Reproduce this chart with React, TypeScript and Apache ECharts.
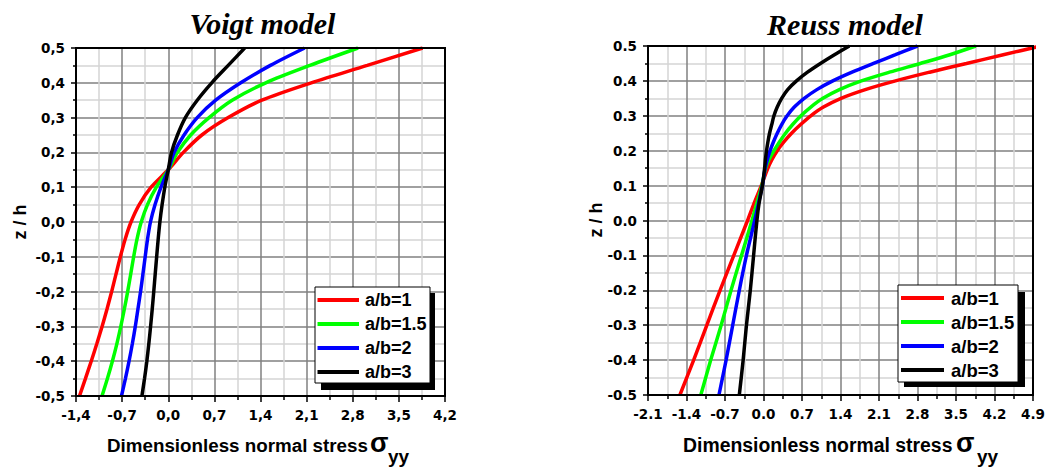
import React, { useEffect, useRef } from 'react';
import * as echarts from 'echarts';

// ---------- data ----------
const seriesNames = ['a/b=1', 'a/b=1.5', 'a/b=2', 'a/b=3'];
const seriesColors = ['#ff0000', '#00ff00', '#0000ff', '#000000'];

// Voigt model: z/h levels and stress values per a/b
const voigtZ = [-0.5, -0.45, -0.4, -0.35, -0.3, -0.25, -0.2, -0.15, -0.1, -0.05, 0, 0.05, 0.1, 0.15, 0.2, 0.25, 0.3, 0.35, 0.4, 0.45, 0.5];
const voigtAB1 = [-1.347, -1.257, -1.169, -1.084, -1.004, -0.929, -0.859, -0.793, -0.727, -0.655, -0.565, -0.44, -0.26, 0.0, 0.23, 0.51, 0.91, 1.42, 2.17, 3.02, 3.86];
const voigtAB15 = [-1.005, -0.923, -0.848, -0.78, -0.72, -0.666, -0.616, -0.57, -0.525, -0.475, -0.41, -0.315, -0.18, 0.0, 0.14, 0.34, 0.62, 0.97, 1.48, 2.15, 2.88];
const voigtAB2 = [-0.71, -0.65, -0.595, -0.545, -0.5, -0.46, -0.42, -0.385, -0.35, -0.315, -0.27, -0.2, -0.11, 0.0, 0.09, 0.24, 0.44, 0.72, 1.1, 1.55, 2.07];
const voigtAB3 = [-0.4, -0.36, -0.325, -0.295, -0.268, -0.243, -0.22, -0.198, -0.176, -0.153, -0.127, -0.093, -0.052, 0.0, 0.05, 0.14, 0.26, 0.44, 0.66, 0.91, 1.16];

// Reuss model
const reussZ = [-0.5, -0.4, -0.3, -0.2, -0.1, 0, 0.05, 0.1, 0.15, 0.175, 0.2, 0.225, 0.25, 0.275, 0.3, 0.325, 0.35, 0.375, 0.4, 0.425, 0.45, 0.475, 0.5];
const reussAB1 = [-1.52, -1.27, -1.03, -0.79, -0.54, -0.29, -0.17, -0.04, 0.08, 0.155, 0.25, 0.37, 0.51, 0.675, 0.86, 1.09, 1.41, 1.85, 2.4, 3.02, 3.69, 4.36, 5.04];
const reussAB15 = [-1.14, -0.96, -0.77, -0.59, -0.4, -0.21, -0.12, -0.03, 0.04, 0.1, 0.19, 0.29, 0.4, 0.53, 0.68, 0.86, 1.08, 1.38, 1.78, 2.29, 2.85, 3.39, 3.86];
const reussAB2 = [-0.81, -0.68, -0.56, -0.44, -0.31, -0.16, -0.09, -0.02, 0.03, 0.07, 0.12, 0.18, 0.25, 0.33, 0.43, 0.56, 0.74, 0.97, 1.26, 1.61, 2.0, 2.4, 2.8];
const reussAB3 = [-0.44, -0.37, -0.31, -0.24, -0.18, -0.12, -0.08, -0.02, 0.02, 0.035, 0.055, 0.08, 0.11, 0.15, 0.19, 0.25, 0.33, 0.44, 0.6, 0.8, 1.035, 1.29, 1.56];

const voigtSeries = [voigtAB1, voigtAB15, voigtAB2, voigtAB3];
const reussSeries = [reussAB1, reussAB15, reussAB2, reussAB3];

const titles = ['Voigt model', 'Reuss model'];
const xAxisTitle = 'Dimensionless normal stress';
const sigma = 'σ';
const sub = 'yy';
const yAxisTitle = 'z / h';

// axis ranges
const voigtXMin = -1.4, voigtXMax = 4.2;
const reussXMin = -2.1, reussXMax = 4.9;
const xStep = 0.7;
const zMin = -0.5, zMax = 0.5, zStep = 0.1;

// ---------- layout ----------
const G = [
  { left: 76, top: 48, width: 369, height: 348 },
  { left: 648, top: 46, width: 385, height: 349 },
];

const fmt = (comma: boolean) => (v: number) => {
  const s = (Math.abs(v) < 1e-9 ? 0 : v).toFixed(1);
  return comma ? s.replace('.', ',') : s;
};

const labelStyle = {
  fontFamily: 'DejaVu Sans',
  fontWeight: 'bold',
  fontSize: 13.5,
  color: '#000',
};

function xAxis(gridIndex: number, min: number, max: number, comma: boolean) {
  return {
    type: 'value',
    gridIndex,
    min,
    max,
    interval: xStep,
    axisLine: { show: true, onZero: false, lineStyle: { color: '#000', width: 2 } },
    axisTick: { show: true, inside: false, length: 6, lineStyle: { color: '#000', width: 1.5 } },
    minorTick: { show: true, splitNumber: 2, length: 4, lineStyle: { color: '#000', width: 1.5 } },
    splitLine: { show: true, lineStyle: { color: '#808080', width: 1.5 } },
    minorSplitLine: { show: true, lineStyle: { color: '#d4d4d4', width: 1.5 } },
    axisLabel: { ...labelStyle, margin: 12, formatter: fmt(comma), showMinLabel: true, showMaxLabel: true },
  };
}

function yAxis(gridIndex: number, comma: boolean) {
  return {
    type: 'value',
    gridIndex,
    min: zMin,
    max: zMax,
    interval: zStep,
    axisLine: { show: true, onZero: false, lineStyle: { color: '#000', width: 2 } },
    axisTick: { show: true, inside: false, length: 5, lineStyle: { color: '#000', width: 1.5 } },
    minorTick: { show: true, splitNumber: 2, length: 3, lineStyle: { color: '#000', width: 1.5 } },
    splitLine: { show: true, lineStyle: { color: '#808080', width: 1.5 } },
    minorSplitLine: { show: true, lineStyle: { color: '#d4d4d4', width: 1.5 } },
    axisLabel: { ...labelStyle, margin: 11, formatter: fmt(comma), showMinLabel: true, showMaxLabel: true },
  };
}

function makeSeries(idx: number, zs: number[], xs: number[][]) {
  return xs.map((arr, i) => ({
    type: 'line',
    name: seriesNames[i],
    xAxisIndex: idx,
    yAxisIndex: idx,
    data: zs.map((z, k) => [arr[k], z]),
    showSymbol: false,
    symbol: 'none',
    smooth: 0.3,
    clip: true,
    lineStyle: { color: seriesColors[i], width: 3.5 },
    itemStyle: { color: seriesColors[i] },
    z: 3 + i,
  }));
}

function legendGraphics(box: { x: number; y: number; w: number; h: number }, shadow: { x: number; y: number; w: number; h: number }, lineX1: number, lineX2: number, textX: number, rows: number[], fontSize: number) {
  const els: any[] = [
    { type: 'rect', z: 100, shape: { x: shadow.x, y: shadow.y, width: shadow.w, height: shadow.h }, style: { fill: '#000' } },
    { type: 'rect', z: 101, shape: { x: box.x, y: box.y, width: box.w, height: box.h }, style: { fill: '#fff', stroke: '#000', lineWidth: 1 } },
  ];
  seriesNames.forEach((n, i) => {
    els.push({ type: 'line', z: 102, shape: { x1: lineX1, y1: rows[i], x2: lineX2, y2: rows[i] }, style: { stroke: seriesColors[i], lineWidth: 4 } });
    els.push({
      type: 'text', z: 102, x: textX, y: rows[i],
      style: { text: n, fontFamily: 'Liberation Sans, Arial', fontWeight: 'bold', fontSize, fill: '#000', align: 'left', verticalAlign: 'middle' },
    });
  });
  return els;
}

function axisTitleGraphics(x: number, sigmaX: number, subX: number, fontSize: number) {
  return [
    { type: 'text', x, y: 445.4, style: { text: xAxisTitle, fontFamily: 'Liberation Sans, Arial', fontWeight: 'bold', fontSize, fill: '#000', align: 'left', verticalAlign: 'middle' } },
    { type: 'text', x: sigmaX, y: 442.6, style: { text: sigma, fontFamily: 'Liberation Sans, Arial', fontWeight: 'bold', fontSize: 27, fill: '#000', align: 'left', verticalAlign: 'middle' } },
    { type: 'text', x: subX, y: 456.3, style: { text: sub, fontFamily: 'Liberation Sans, Arial', fontWeight: 'bold', fontSize: 19, fill: '#000', align: 'left', verticalAlign: 'middle' } },
  ];
}

export default function App() {
  const ref = useRef<HTMLDivElement>(null);
  useEffect(() => {
    if (!ref.current) return;
    const chart = echarts.init(ref.current, null, { renderer: 'svg' });
    const graphic: any[] = [
      { type: 'text', x: 262.5, y: 23, style: { text: titles[0], fontFamily: 'Liberation Serif, Times New Roman', fontStyle: 'italic', fontWeight: 'bold', fontSize: 30, fill: '#000', align: 'center', verticalAlign: 'middle' } },
      { type: 'text', x: 845, y: 24, style: { text: titles[1], fontFamily: 'Liberation Serif, Times New Roman', fontStyle: 'italic', fontWeight: 'bold', fontSize: 30, fill: '#000', align: 'center', verticalAlign: 'middle' } },
      { type: 'text', x: 20, y: 222, rotation: Math.PI / 2, style: { text: yAxisTitle, fontFamily: 'Liberation Sans, Arial', fontWeight: 'bold', fontSize: 18, fill: '#000', align: 'center', verticalAlign: 'middle' } },
      { type: 'text', x: 596, y: 220, rotation: Math.PI / 2, style: { text: yAxisTitle, fontFamily: 'Liberation Sans, Arial', fontWeight: 'bold', fontSize: 18, fill: '#000', align: 'center', verticalAlign: 'middle' } },
      ...axisTitleGraphics(107, 370, 388, 18.8),
      ...axisTitleGraphics(683, 956, 977, 19.4),
      ...G.map((g) => ({ type: 'rect', z: 90, shape: { x: g.left, y: g.top, width: g.width, height: g.height }, style: { fill: 'none', stroke: '#000', lineWidth: 2 } })),
      ...legendGraphics({ x: 315, y: 287, w: 115, h: 96 }, { x: 321, y: 293, w: 114, h: 97 }, 317.5, 359, 365, [300, 324, 348, 372], 18),
      ...legendGraphics({ x: 898, y: 285, w: 120, h: 97 }, { x: 904, y: 292, w: 121, h: 95 }, 901, 944, 951, [298, 322, 346, 370], 18.5),
    ];
    chart.setOption({
      animation: false,
      backgroundColor: '#fff',
      grid: G.map((g) => ({ ...g, containLabel: false, outerBoundsMode: 'none', show: false })),
      xAxis: [xAxis(0, voigtXMin, voigtXMax, true), xAxis(1, reussXMin, reussXMax, false)],
      yAxis: [yAxis(0, true), yAxis(1, false)],
      series: [...makeSeries(0, voigtZ, voigtSeries), ...makeSeries(1, reussZ, reussSeries)],
      graphic,
    });
    return () => chart.dispose();
  }, []);
  return <div ref={ref} style={{ position: 'fixed', left: 0, top: 0, width: 1051, height: 471, background: '#fff' }} />;
}
